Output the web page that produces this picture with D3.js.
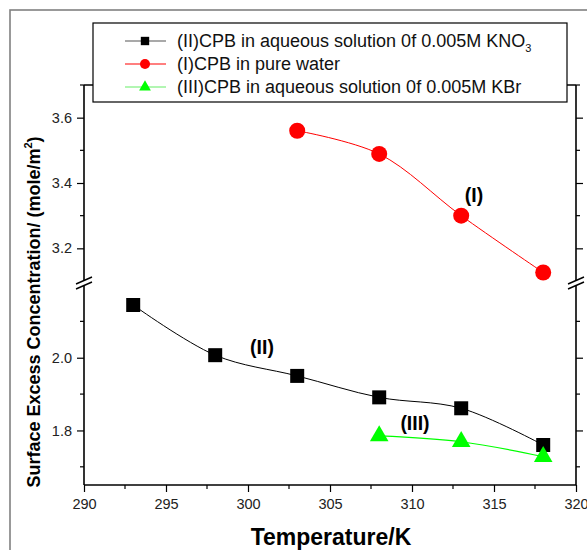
<!DOCTYPE html>
<html>
<head>
<meta charset="utf-8">
<script src="https://cdn.jsdelivr.net/npm/d3@7"></script>
<style>
  html, body { margin: 0; padding: 0; background: #fff; }
  svg { display: block; }
  text { font-family: "Liberation Sans", Arial, sans-serif; }
</style>
</head>
<body>
<svg id="chart" width="587" height="550"></svg>
<script>
// ---- data ----
const tempsII = [293, 298, 303, 308, 313, 318];
const valuesII = [2.145, 2.007, 1.95, 1.891, 1.861, 1.76];
const tempsI = [303, 308, 313, 318];
const valuesI = [3.56, 3.489, 3.30, 3.126];
const tempsIII = [308, 313, 318];
const valuesIII = [1.785, 1.769, 1.728];

const xTicks = [290, 295, 300, 305, 310, 315, 320];
const yTicksUpper = [3.2, 3.4, 3.6];
const yTicksLower = [1.8, 2.0];
const yMinorUpper = [3.3, 3.5, 3.7];
const yMinorLower = [1.7, 1.9, 2.1];

const legendLabels = [
  "(II)CPB in aqueous solution 0f 0.005M KNO",
  "(I)CPB in pure water",
  "(III)CPB in aqueous solution 0f 0.005M KBr"
];

// ---- layout ----
const svg = d3.select("#chart");
const pLeft = 84, pRight = 576, pTop = 85, pBottom = 485;
const breakLow = 285, breakHigh = 281;

const x = d3.scaleLinear().domain([290, 320]).range([pLeft, pRight]);
const yUp = d3.scaleLinear().domain([3.1, 3.7]).range([breakHigh, pTop]);
const yLo = d3.scaleLinear().domain([1.65, 2.2]).range([pBottom, breakLow]);

// outer frame
svg.append("rect").attr("x", 10).attr("y", 10).attr("width", 600).attr("height", 600)
  .attr("fill", "none").attr("stroke", "#808080").attr("stroke-width", 1.6);

const axisColor = "#000";
const g = svg.append("g");

// x axis (bottom)
const xAxis = d3.axisBottom(x).tickValues(xTicks).tickSize(7).tickPadding(7).tickFormat(d3.format("d"));
const gx = g.append("g").attr("transform", `translate(0,${pBottom})`).call(xAxis);
gx.select(".domain").remove();
gx.selectAll("text").attr("font-size", 14.5).attr("fill", "#222")
  .style("font-family", '"Liberation Sans", Arial, sans-serif');
gx.selectAll("line").attr("stroke-width", 1.2);
const xMinor = d3.range(292.5, 320, 5);
g.append("g").selectAll("line").data(xMinor).join("line")
  .attr("x1", d => x(d)).attr("x2", d => x(d)).attr("y1", pBottom).attr("y2", pBottom + 4)
  .attr("stroke", axisColor).attr("stroke-width", 1.2);
g.append("line").attr("x1", pLeft).attr("x2", pRight).attr("y1", pBottom).attr("y2", pBottom)
  .attr("stroke", axisColor).attr("stroke-width", 1.6);
// top border
g.append("line").attr("x1", pLeft).attr("x2", pRight).attr("y1", pTop).attr("y2", pTop)
  .attr("stroke", axisColor).attr("stroke-width", 1.4);

// y axis segments
function yAxisSeg(scale, ticks, minor, xpos, showLabels, dir) {
  const ax = (dir < 0 ? d3.axisLeft(scale) : d3.axisRight(scale))
    .tickValues(ticks).tickSize(7).tickPadding(5).tickFormat(d3.format(".1f"));
  const ga = g.append("g").attr("transform", `translate(${xpos},0)`).call(ax);
  ga.select(".domain").remove();
  ga.selectAll("line").attr("stroke-width", 1.2);
  if (!showLabels) ga.selectAll("text").remove();
  else ga.selectAll("text").attr("font-size", 14.5).attr("fill", "#222")
    .style("font-family", '"Liberation Sans", Arial, sans-serif');
  g.append("g").selectAll("line").data(minor).join("line")
    .attr("x1", xpos).attr("x2", xpos + dir * 4)
    .attr("y1", d => scale(d)).attr("y2", d => scale(d))
    .attr("stroke", axisColor).attr("stroke-width", 1.2);
}
yAxisSeg(yUp, yTicksUpper, yMinorUpper, pLeft, true, -1);
yAxisSeg(yLo, yTicksLower, yMinorLower, pLeft, true, -1);
yAxisSeg(yUp, yTicksUpper, yMinorUpper, pRight, false, 1);
yAxisSeg(yLo, yTicksLower, yMinorLower, pRight, false, 1);

// axis lines with break
[pLeft, pRight].forEach(xp => {
  g.append("line").attr("x1", xp).attr("x2", xp).attr("y1", pTop).attr("y2", breakHigh - 1)
    .attr("stroke", axisColor).attr("stroke-width", 1.6);
  g.append("line").attr("x1", xp).attr("x2", xp).attr("y1", breakLow + 1).attr("y2", pBottom)
    .attr("stroke", axisColor).attr("stroke-width", 1.6);
  const yc = (breakLow + breakHigh) / 2;
  [-2.5, 2.5].forEach(off => {
    g.append("line").attr("x1", xp - 8).attr("x2", xp + 8)
      .attr("y1", yc + off + 3.5).attr("y2", yc + off - 3.5)
      .attr("stroke", axisColor).attr("stroke-width", 1.4);
  });
});

// ---- series ----
const clr = { II: "#000000", I: "#ff0000", III: "#00ff00" };
function lineFor(scale) {
  return d3.line().x(d => x(d[0])).y(d => scale(d[1])).curve(d3.curveCatmullRom.alpha(0.5));
}
const dII = tempsII.map((t, i) => [t, valuesII[i]]);
const dI = tempsI.map((t, i) => [t, valuesI[i]]);
const dIII = tempsIII.map((t, i) => [t, valuesIII[i]]);

g.append("path").datum(dII).attr("d", lineFor(yLo)).attr("fill", "none").attr("stroke", clr.II).attr("stroke-width", 1);
g.append("path").datum(dI).attr("d", lineFor(yUp)).attr("fill", "none").attr("stroke", clr.I).attr("stroke-width", 1);
g.append("path").datum(dIII).attr("d", lineFor(yLo)).attr("fill", "none").attr("stroke", clr.III).attr("stroke-width", 1.2);

const sq = d3.symbol().type(d3.symbolSquare).size(196);
const ci = d3.symbol().type(d3.symbolCircle).size(Math.PI * 64);
const tri = d3.symbol().type(d3.symbolTriangle).size(150);

g.append("g").selectAll("path").data(dII).join("path")
  .attr("d", sq).attr("transform", d => `translate(${x(d[0])},${yLo(d[1])})`).attr("fill", clr.II);
g.append("g").selectAll("path").data(dI).join("path")
  .attr("d", ci).attr("transform", d => `translate(${x(d[0])},${yUp(d[1])})`).attr("fill", clr.I);
g.append("g").selectAll("path").data(dIII).join("path")
  .attr("d", tri).attr("transform", d => `translate(${x(d[0])},${yLo(d[1])})`).attr("fill", clr.III);

// annotations
const ann = [
  { t: "(I)", x: 474, y: 202 },
  { t: "(II)", x: 262, y: 354 },
  { t: "(III)", x: 415, y: 430 }
];
g.append("g").selectAll("text").data(ann).join("text")
  .attr("x", d => d.x).attr("y", d => d.y).attr("text-anchor", "middle")
  .attr("font-size", 19.5).attr("font-weight", "bold").text(d => d.t);

// ---- legend ----
const lg = svg.append("g");
lg.append("rect").attr("x", 93).attr("y", 23).attr("width", 474).attr("height", 79)
  .attr("fill", "#fff").attr("stroke", "#000").attr("stroke-width", 1.2);
const legendColors = ["#555", clr.I, "#66ee66"];
const legendMarkColors = [clr.II, clr.I, clr.III];
const legendSyms = [
  d3.symbol().type(d3.symbolSquare).size(70),
  d3.symbol().type(d3.symbolCircle).size(Math.PI * 25),
  d3.symbol().type(d3.symbolTriangle).size(60)
];
legendLabels.forEach((lab, i) => {
  const yy = 41 + i * 23;
  lg.append("line").attr("x1", 125).attr("x2", 166).attr("y1", yy).attr("y2", yy)
    .attr("stroke", legendColors[i]).attr("stroke-width", 1.2);
  lg.append("path").attr("d", legendSyms[i]).attr("transform", `translate(145,${yy})`)
    .attr("fill", legendMarkColors[i]);
  const t = lg.append("text").attr("x", 177).attr("y", yy + 6).attr("font-size", 18).attr("fill", "#111");
  t.append("tspan").text(lab);
  if (i === 0) t.append("tspan").attr("font-size", 11).attr("dy", 5).text("3");
});

// ---- axis titles ----
svg.append("text").attr("x", 331).attr("y", 545).attr("text-anchor", "middle")
  .attr("font-size", 23).attr("font-weight", "bold").text("Temperature/K");
const yt = svg.append("text").attr("transform", "translate(40,312) rotate(-90)")
  .attr("text-anchor", "middle").attr("font-size", 18).attr("font-weight", "bold");
yt.append("tspan").text("Surface Excess Concentration/ (mole/m");
yt.append("tspan").attr("font-size", 11).attr("dy", -8).text("2");
yt.append("tspan").attr("dy", 8).text(")");
</script>
</body>
</html>
